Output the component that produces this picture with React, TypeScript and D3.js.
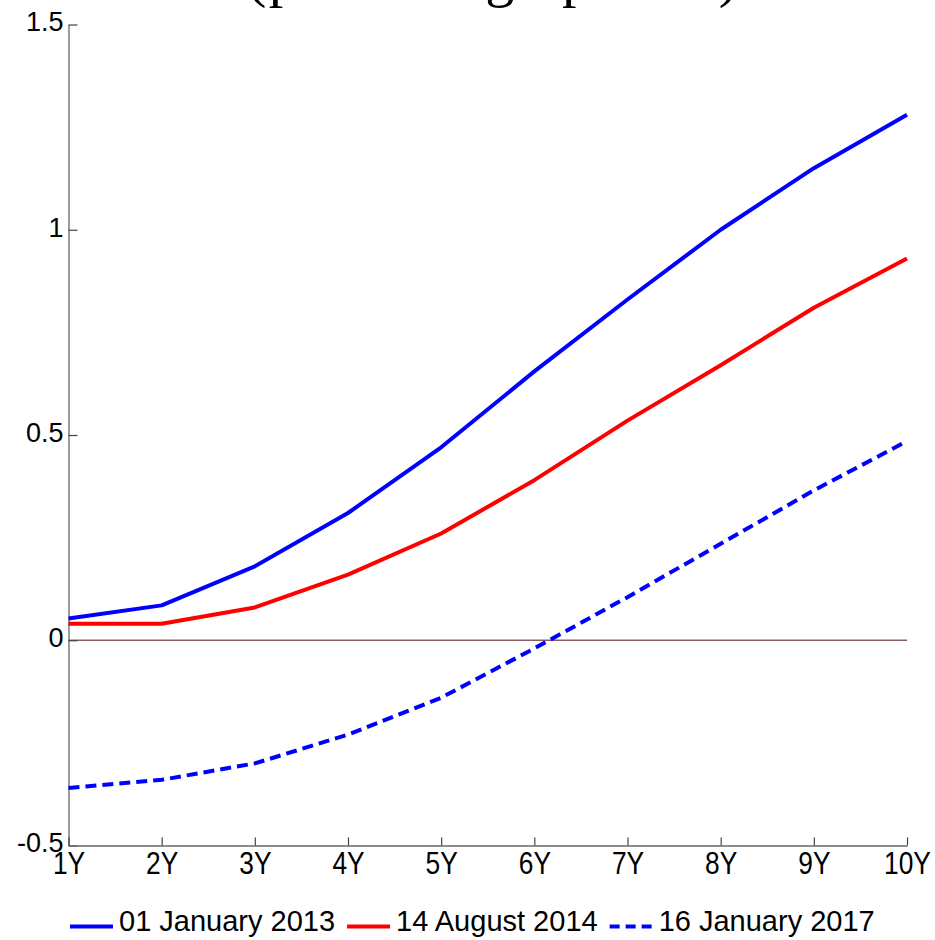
import React, { useEffect, useRef } from 'react';
import * as d3 from 'd3';

// maturities on the x axis
const maturities = ['1Y', '2Y', '3Y', '4Y', '5Y', '6Y', '7Y', '8Y', '9Y', '10Y'];

// curves (percentage points)
const jan2013 = [0.053, 0.085, 0.18, 0.31, 0.47, 0.655, 0.83, 1.0, 1.15, 1.28];
const aug2014 = [0.04, 0.04, 0.08, 0.16, 0.26, 0.39, 0.535, 0.67, 0.81, 0.93];
const jan2017 = [-0.36, -0.34, -0.3, -0.23, -0.14, -0.02, 0.105, 0.235, 0.365, 0.485];

const seriesNames = ['01 January 2013', '14 August 2014', '16 January 2017'];
const yTicks = [-0.5, 0, 0.5, 1, 1.5];
const yTickLabels = ['-0.5', '0', '0.5', '1', '1.5'];
const title = '(percentage points)';

export default function App() {
  const svgRef = useRef<SVGSVGElement>(null);

  useEffect(() => {
    const w = 935;
    const h = 940;
    const m = { top: 24.5, right: 28, bottom: 94.5, left: 68.5 };
    const svg = d3.select(svgRef.current).attr('width', w).attr('height', h);
    svg.selectAll('*').remove();

    const x = d3.scalePoint<string>().domain(maturities).range([m.left, w - m.right]);
    const y = d3.scaleLinear().domain([-0.5, 1.5]).range([h - m.bottom, m.top]);

    // title, mostly cut off at the top edge
    svg
      .append('text')
      .attr('x', 247)
      .attr('y', -4)
      .attr('textLength', 491)
      .attr('lengthAdjust', 'spacing')
      .style('font-family', '"Liberation Serif", "Times New Roman", serif')
      .style('font-size', '58px')
      .text(title);

    // zero line
    svg
      .append('line')
      .attr('x1', x(maturities[0]))
      .attr('x2', x(maturities[maturities.length - 1]))
      .attr('y1', y(0))
      .attr('y2', y(0))
      .attr('stroke', '#8a5e5e')
      .attr('stroke-width', 1.5);

    // axes
    const yAxis = d3
      .axisLeft(y)
      .tickValues(yTicks)
      .tickSize(-9)
      .tickSizeOuter(0)
      .tickPadding(5)
      .tickFormat((d: any) => yTickLabels[yTicks.indexOf(d)]);
    const gy = svg.append('g').attr('transform', `translate(${m.left},0)`).call(yAxis);

    const xAxis = d3.axisBottom(x).tickSize(-8).tickSizeOuter(0);
    const gx = svg.append('g').attr('transform', `translate(0,${h - m.bottom})`).call(xAxis);

    [gx, gy].forEach((g) => {
      g.select('.domain').attr('stroke', '#666').attr('stroke-width', 1.3);
      g.selectAll('.tick line').attr('stroke', '#444').attr('stroke-width', 1.2);
      g.selectAll('text')
        .attr('fill', '#000')
        .style('font-family', '"Liberation Sans", Arial, sans-serif');
    });
    gy.selectAll('text').style('font-size', '27px').attr('dy', '0.24em');
    gx.selectAll('text')
      .style('font-size', '31px')
      .attr('y', 28)
      .attr('dy', 0)
      .attr('transform', 'scale(0.85,1)');

    // series
    const series = [
      { name: seriesNames[0], values: jan2013, color: '#0000ff', dash: null },
      { name: seriesNames[1], values: aug2014, color: '#ff0000', dash: null },
      { name: seriesNames[2], values: jan2017, color: '#0000ff', dash: '11,6' },
    ];
    const line = d3
      .line<number>()
      .x((d, i) => x(maturities[i]) as number)
      .y((d) => y(d));
    series.forEach((s) => {
      svg
        .append('path')
        .attr('d', line(s.values))
        .attr('fill', 'none')
        .attr('stroke', s.color)
        .attr('stroke-width', 4)
        .attr('stroke-linejoin', 'round')
        .attr('stroke-dasharray', s.dash);
    });

    // legend along the bottom
    const legend = svg.append('g').attr('transform', 'translate(70,926.5)');
    let lx = 0;
    series.forEach((s) => {
      legend
        .append('line')
        .attr('x1', lx)
        .attr('x2', lx + 43)
        .attr('y1', 0)
        .attr('y2', 0)
        .attr('stroke', s.color)
        .attr('stroke-width', 4)
        .attr('stroke-dasharray', s.dash ? '10,6' : null);
      const t = legend
        .append('text')
        .attr('x', lx + 49)
        .attr('y', 4.5)
        .style('font-family', '"Liberation Sans", Arial, sans-serif')
        .style('font-size', '29px')
        .text(s.name);
      lx += 49 + (t.node() as SVGTextElement).getComputedTextLength() + 12;
    });
  }, []);

  return (
    <div style={{ position: 'absolute', left: 0, top: 0, width: 935, height: 940, background: '#fff' }}>
      <svg ref={svgRef} style={{ display: 'block' }}></svg>
    </div>
  );
}
